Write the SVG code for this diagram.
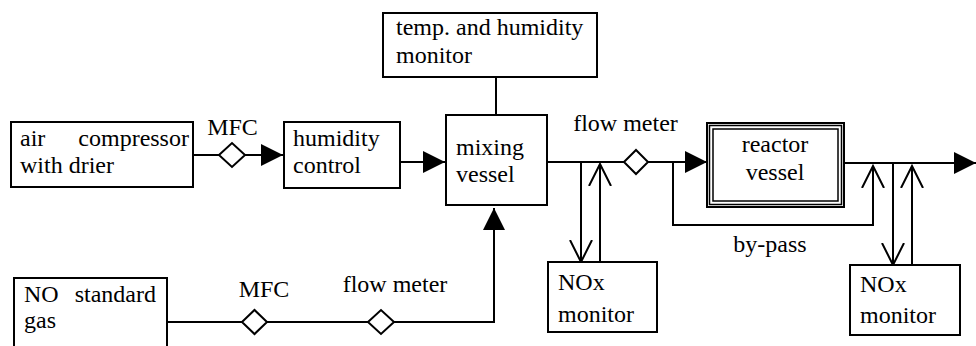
<svg xmlns="http://www.w3.org/2000/svg" width="976" height="346" viewBox="0 0 976 346" font-family="'Liberation Serif', 'Times New Roman', serif" font-size="24">
<style>
  .box { fill: #fff; stroke: #000; stroke-width: 2; }
  .thin { fill: none; stroke: #000; stroke-width: 1.5; }
  .ln { fill: none; stroke: #000; stroke-width: 2; }
  .dia { fill: #fff; stroke: #000; stroke-width: 2; }
  text { font-family: "Liberation Serif", "Times New Roman", serif; font-size: 24px; fill: #000; }
</style>
<defs>
  <marker id="fill" markerUnits="userSpaceOnUse" markerWidth="24" markerHeight="24" refX="22" refY="11" orient="auto">
    <path d="M0,0 L22,11 L0,22 Z" fill="#000"/>
  </marker>
  <marker id="open" markerUnits="userSpaceOnUse" markerWidth="26" markerHeight="26" refX="22" refY="12" orient="auto">
    <path d="M0,1 L22,12 L0,23" fill="none" stroke="#000" stroke-width="2"/>
  </marker>
</defs>

<g id="connectors">
  <line class="ln" x1="193" y1="155" x2="283" y2="155" marker-end="url(#fill)"/>
  <line class="ln" x1="400" y1="162" x2="445" y2="162" marker-end="url(#fill)"/>
  <line class="ln" x1="496" y1="77" x2="496" y2="115"/>
  <polyline class="ln" points="167,322 494,322 494,208" marker-end="url(#fill)"/>
  <line class="ln" x1="547" y1="162" x2="707" y2="162" marker-end="url(#fill)"/>
  <line class="ln" x1="581" y1="162" x2="581" y2="262" marker-end="url(#open)"/>
  <line class="ln" x1="600" y1="262" x2="600" y2="164" marker-end="url(#open)"/>
  <polyline class="ln" points="673,162 673,225 873,225 873,166" marker-end="url(#open)"/>
  <line class="ln" x1="844" y1="163" x2="976" y2="163" marker-end="url(#fill)"/>
  <line class="ln" x1="893" y1="163" x2="893" y2="265" marker-end="url(#open)"/>
  <line class="ln" x1="912" y1="265" x2="912" y2="166" marker-end="url(#open)"/>
  <path class="dia" d="M219,155 L232,143 L245,155 L232,167 Z"/>
  <path class="dia" d="M624,162 L636,150 L648,162 L636,174 Z"/>
  <path class="dia" d="M242,322 L254.5,310 L267,322 L254.5,334 Z"/>
  <path class="dia" d="M368,322 L381,310 L394,322 L381,334 Z"/>
  <text x="232.5" y="135" text-anchor="middle">MFC</text>
  <text x="625.5" y="131" text-anchor="middle">flow meter</text>
  <text x="264" y="297" text-anchor="middle">MFC</text>
  <text x="395" y="292" text-anchor="middle">flow meter</text>
  <text x="770" y="252" text-anchor="middle">by-pass</text>
</g>

<g id="air-compressor">
  <rect class="box" x="11" y="122" width="182" height="65"/>
  <text x="20" y="146" word-spacing="27">air compressor</text>
  <text x="20" y="173">with drier</text>
</g>

<g id="humidity-control">
  <rect class="box" x="284" y="122" width="116" height="66"/>
  <text x="293" y="146">humidity</text>
  <text x="293" y="173">control</text>
</g>

<g id="temp-humidity-monitor">
  <rect class="box" x="383" y="13" width="214" height="64"/>
  <text x="396" y="35">temp. and humidity</text>
  <text x="396" y="63">monitor</text>
</g>

<g id="mixing-vessel">
  <rect class="box" x="446" y="115" width="101" height="90"/>
  <text x="456" y="155">mixing</text>
  <text x="456" y="182">vessel</text>
</g>

<g id="reactor-vessel">
  <rect class="box" x="707" y="123" width="137" height="84"/>
  <rect class="thin" x="709.5" y="125.5" width="132" height="79"/>
  <rect class="thin" x="713" y="129" width="125" height="72"/>
  <text x="775" y="152" text-anchor="middle">reactor</text>
  <text x="775" y="180" text-anchor="middle">vessel</text>
</g>

<g id="no-standard-gas">
  <rect class="box" x="14" y="278" width="153" height="80"/>
  <text x="24" y="302" word-spacing="10">NO standard</text>
  <text x="24" y="328">gas</text>
</g>

<g id="nox-monitor-1">
  <rect class="box" x="548" y="262" width="109" height="70"/>
  <text x="558" y="290">NOx</text>
  <text x="558" y="322">monitor</text>
</g>

<g id="nox-monitor-2">
  <rect class="box" x="850" y="265" width="110" height="70"/>
  <text x="860" y="292">NOx</text>
  <text x="860" y="323">monitor</text>
</g>
</svg>
